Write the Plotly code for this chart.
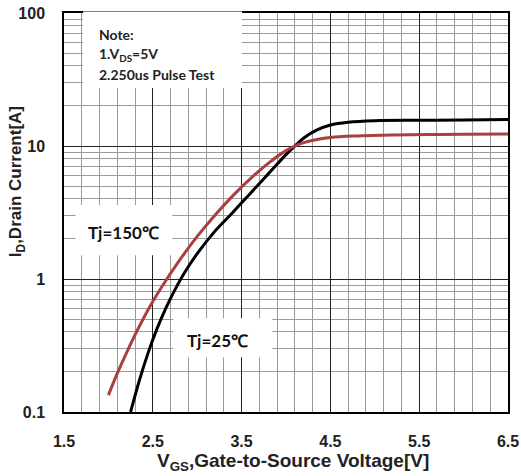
import plotly.graph_objects as go

# ---- data ----
vgs_25 = [2.25, 2.35, 2.45, 2.55, 2.65, 2.75, 2.85, 3.0, 3.2, 3.4, 3.6, 3.8, 4.0, 4.1, 4.2, 4.35, 4.5, 4.7, 5.0, 5.5, 6.0, 6.5]
id_25 = [0.1, 0.174, 0.282, 0.427, 0.61, 0.832, 1.096, 1.55, 2.29, 3.16, 4.42, 6.17, 8.61, 10.0, 11.5, 13.2, 14.4, 15.1, 15.5, 15.6, 15.7, 15.85]

vgs_150 = [2.0, 2.1, 2.2, 2.3, 2.4, 2.5, 2.6, 2.8, 3.0, 3.2, 3.4, 3.6, 3.8, 4.0, 4.1, 4.2, 4.35, 4.5, 4.8, 5.2, 5.6, 6.0, 6.5]
id_150 = [0.134, 0.195, 0.275, 0.38, 0.513, 0.676, 0.871, 1.38, 2.09, 3.02, 4.22, 5.69, 7.41, 9.23, 10.0, 10.6, 11.2, 11.6, 11.9, 12.1, 12.2, 12.25, 12.3]

x_ticks = [1.5, 2.5, 3.5, 4.5, 5.5, 6.5]
x_tick_text = ["1.5", "2.5", "3.5", "4.5", "5.5", "6.5"]
y_ticks = [0.1, 1, 10, 100]
y_tick_text = ["0.1", "1", "10", "100"]
y_minor = [m * d for d in (0.1, 1, 10) for m in range(2, 10)]

label_25 = "Tj=25℃"
label_150 = "Tj=150℃"
note_lines = ["Note:", "1.V<sub>DS</sub>=5V", "2.250us Pulse Test"]
x_title = "V<sub>GS</sub>,Gate-to-Source Voltage[V]"
y_title = "I<sub>D</sub>,Drain Current[A]"

# ---- figure ----
fig = go.Figure()
fig.add_trace(go.Scatter(x=vgs_25, y=id_25, mode="lines",
                         line=dict(color="#000000", width=3, shape="spline", smoothing=1.0), showlegend=False))
fig.add_trace(go.Scatter(x=vgs_150, y=id_150, mode="lines",
                         line=dict(color="#A8403F", width=3, shape="spline", smoothing=1.0), showlegend=False))

tickfont = dict(family="Liberation Sans, Arial, sans-serif", size=16, color="#222222", weight="bold")

fig.update_xaxes(
    range=[1.5, 6.5], tickvals=x_ticks, ticktext=x_tick_text, tickfont=tickfont,
    showgrid=True, gridcolor="#222222", gridwidth=1, zeroline=False,
    showline=True, linecolor="#000000", linewidth=1.5, mirror=True, ticks="",
    ticklabelstandoff=14, automargin=False,
    minor=dict(tick0=1.5, dtick=0.2, showgrid=True, gridcolor="#9a9a9a", gridwidth=1, ticks=""),
)
fig.update_yaxes(
    type="log", range=[-1, 2], tickvals=y_ticks, ticktext=y_tick_text, tickfont=tickfont,
    showgrid=True, gridcolor="#222222", gridwidth=1, zeroline=False,
    showline=True, linecolor="#000000", linewidth=1.5, mirror=True, ticks="",
    ticklabelstandoff=14, automargin=False,
    minor=dict(tickvals=y_minor, showgrid=True, gridcolor="#9a9a9a", gridwidth=1, ticks=""),
)

# white label boxes hiding the grid
boxes = [
    (0.043, 0.401, 0.812, 1.004),   # note box
    (0.026, 0.244, 0.393, 0.519),   # Tj=150 box
    (0.246, 0.469, 0.137, 0.235),   # Tj=25 box
]
for x0, x1, y0, y1 in boxes:
    fig.add_shape(type="rect", xref="paper", yref="paper", x0=x0, x1=x1, y0=y0, y1=y1,
                  fillcolor="white", line=dict(width=0), layer="above")

note_font = dict(family="Lato, Open Sans, sans-serif", size=14, color="#222222", weight="bold")
note_y = [0.945, 0.895, 0.845]
for txt, yy in zip(note_lines, note_y):
    fig.add_annotation(x=0.075, y=yy, xref="paper", yref="paper", text=txt, showarrow=False,
                       xanchor="left", yanchor="middle", font=note_font)

lab_font = dict(family="Lato, Open Sans, sans-serif", size=17, color="#111111", weight="bold")
fig.add_annotation(x=0.133, y=0.451, xref="paper", yref="paper", text=label_150, showarrow=False,
                   xanchor="center", yanchor="middle", font=lab_font)
fig.add_annotation(x=0.345, y=0.180, xref="paper", yref="paper", text=label_25, showarrow=False,
                   xanchor="center", yanchor="middle", font=lab_font)

title_font = dict(family="Liberation Sans, Arial, sans-serif", size=19, color="#222222", weight="bold")
fig.add_annotation(x=0.515, y=-0.125, xref="paper", yref="paper", text=x_title, showarrow=False,
                   xanchor="center", yanchor="middle", font=title_font)
fig.add_annotation(x=-0.104, y=0.578, xref="paper", yref="paper", text=y_title, showarrow=False,
                   textangle=-90, xanchor="center", yanchor="middle",
                   font=dict(family="Liberation Sans, Arial, sans-serif", size=17, color="#222222", weight="bold"))

fig.update_layout(
    width=521, height=476,
    margin=dict(l=64, r=13, t=13, b=64),
    paper_bgcolor="white", plot_bgcolor="white",
)

fig.write_html("out.html", config={"displayModeBar": False},
               post_script="document.body.style.margin='0';document.body.style.overflow='hidden';")
